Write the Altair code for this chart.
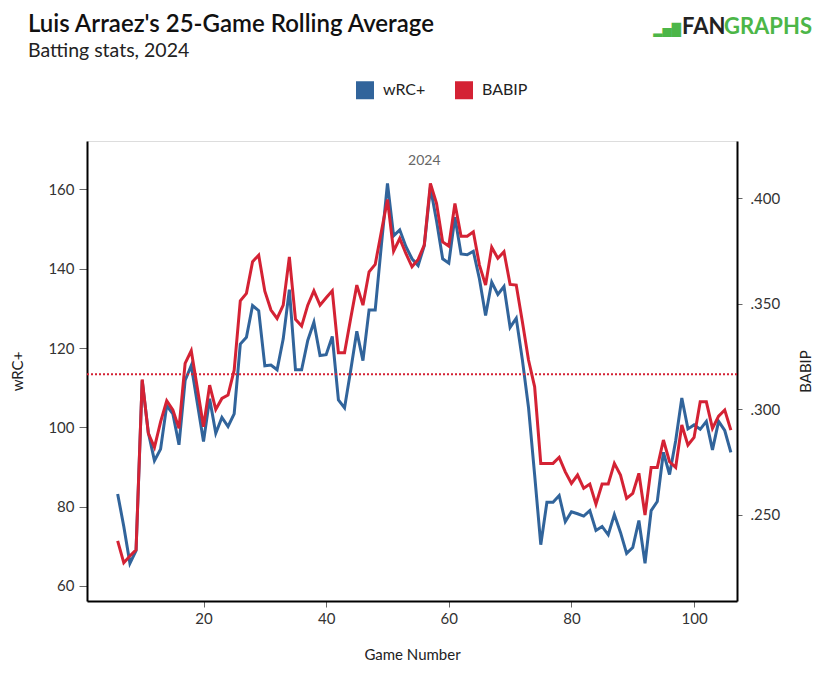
import altair as alt
import pandas as pd

# ---------------- data ----------------
games = list(range(6, 107))

wrc_plus = [
    83.2, 75.0, 65.7, 68.9, 111.8, 98.7, 91.6, 94.5, 105.5, 103.4,      # 6-15
    95.6, 111.8, 115.6, 106.0, 96.4, 107.2, 98.5, 102.5, 100.2, 103.4,  # 16-25
    121.0, 122.7, 130.7, 129.4, 115.5, 115.7, 114.5, 122.3, 134.7, 114.5,  # 26-35
    114.5, 121.9, 126.5, 118.1, 118.3, 122.9, 106.9, 104.9, 114.3, 124.2,  # 36-45
    116.8, 129.6, 129.6, 145.8, 161.5, 148.3, 149.8, 145.6, 142.5, 140.8,  # 46-55
    145.8, 160.5, 152.1, 142.5, 141.4, 153.0, 143.7, 143.5, 144.4, 137.4,  # 56-65
    128.2, 136.6, 133.5, 135.5, 125.2, 127.5, 117.0, 105.0, 88.0, 70.4,    # 66-75
    81.1, 81.1, 82.8, 76.2, 78.7, 78.2, 77.6, 79.0, 74.0, 75.0,            # 76-85
    72.9, 78.0, 73.5, 68.2, 69.7, 76.5, 65.7, 79.0, 81.3, 93.7,            # 86-95
    88.1, 96.6, 107.4, 99.6, 100.6, 99.5, 101.5, 94.3, 101.5, 99.2,        # 96-105
    93.7,                                                                  # 106
]

babip = [
    .2377, .2273, .2305, .2334, .3142, .2886, .2820, .2941, .3041, .2997,  # 6-15
    .2910, .3218, .3278, .3100, .2918, .3115, .3000, .3052, .3068, .3186,  # 16-25
    .3515, .3550, .3700, .3731, .3560, .3471, .3431, .3494, .3723, .3427,  # 26-35
    .3395, .3494, .3562, .3494, .3529, .3562, .3268, .3268, .3431, .3589,  # 36-45
    .3494, .3652, .3687, .3842, .3995, .3750, .3810, .3739, .3676, .3711,  # 46-55
    .3779, .4071, .3976, .3794, .3774, .3976, .3821, .3821, .3842, .3684,  # 56-65
    .3589, .3768, .3716, .3747, .3592, .3589, .3415, .3234, .3107, .2744,  # 66-75
    .2744, .2744, .2773, .2704, .2649, .2689, .2626, .2646, .2551, .2646,  # 76-85
    .2646, .2744, .2689, .2578, .2602, .2697, .2499, .2725, .2725, .2855,  # 86-95
    .2752, .2725, .2926, .2831, .2867, .3036, .3036, .2910, .2968, .2997,  # 96-105
    .2902,                                                                 # 106
]

babip_reference = [0.3167]
season_label = ["2024"]
season_mid_game = [56]

x_ticks = [20, 40, 60, 80, 100]
wrc_ticks = [60, 80, 100, 120, 140, 160]
babip_ticks = [0.25, 0.30, 0.35, 0.40]
series_names = ["wRC+", "BABIP"]

# ---------------- styling ----------------
BLUE = "#31649b"
RED = "#d42234"
GREEN = "#4cb648"
FONT = "Lato"

df = pd.DataFrame({"Game": games, "wRC+": wrc_plus, "BABIP": babip})
ref_df = pd.DataFrame({"ref": babip_reference})
label_df = pd.DataFrame({"Game": season_mid_game, "label": season_label})

color_scale = alt.Scale(domain=series_names, range=[BLUE, RED])
x_scale = alt.Scale(domain=[1, 107], nice=False, zero=False)
wrc_scale = alt.Scale(domain=[56.2, 172.2], nice=False, zero=False)
babip_scale = alt.Scale(domain=[0.2092, 0.4272], nice=False, zero=False)

x_axis = alt.Axis(
    values=x_ticks, title="Game Number", grid=False,
    domainColor="#000", domainWidth=2, tickColor="#666", tickSize=6,
    labelFont=FONT, labelFontSize=15, labelColor="#333", labelPadding=4,
    titleFont=FONT, titleFontSize=15, titleFontWeight="normal",
    titleColor="#222", titlePadding=21,
)

legend = alt.Legend(
    title=None, orient="none", legendX=269, legendY=-60, direction="horizontal",
    symbolType="square", symbolSize=81, symbolStrokeWidth=9,
    labelFont=FONT, labelFontSize=16, labelColor="#222", labelFontWeight="normal",
    labelOffset=9, columnPadding=15, padding=0,
)

blue = alt.Chart(df).transform_calculate(series="'wRC+'").mark_line(strokeWidth=3).encode(
    x=alt.X("Game:Q", scale=x_scale, axis=x_axis),
    y=alt.Y(
        "wRC+:Q", scale=wrc_scale,
        axis=alt.Axis(
            orient="left", values=wrc_ticks, title="wRC+", grid=False,
            domainColor="#000", domainWidth=2, tickColor="#666", tickSize=8,
            labelFont=FONT, labelFontSize=15, labelColor="#333", labelPadding=5,
            titleFont=FONT, titleFontSize=15, titleFontWeight="normal",
            titleColor="#222", titlePadding=22,
        ),
    ),
    color=alt.Color("series:N", scale=color_scale, legend=legend),
)

red = alt.Chart(df).transform_calculate(series="'BABIP'").mark_line(strokeWidth=3).encode(
    x=alt.X("Game:Q", scale=x_scale),
    y=alt.Y(
        "BABIP:Q", scale=babip_scale,
        axis=alt.Axis(
            orient="right", values=babip_ticks, title="BABIP", grid=False,
            labelExpr="substring(format(datum.value, '.3f'), 1)",
            domainColor="#000", domainWidth=2, tickColor="#666", tickSize=5,
            labelFont=FONT, labelFontSize=15, labelColor="#333", labelPadding=8,
            titleFont=FONT, titleFontSize=15, titleFontWeight="normal",
            titleColor="#222", titlePadding=34, titleAngle=270,
        ),
    ),
    color=alt.Color("series:N", scale=color_scale, legend=legend),
)

rule = alt.Chart(ref_df).mark_rule(color=RED, strokeWidth=2, strokeDash=[2, 2]).encode(
    y=alt.Y("ref:Q", scale=babip_scale, title="BABIP"),
)

season_text = alt.Chart(label_df).mark_text(
    font=FONT, fontSize=14, color="#666", baseline="middle"
).encode(
    x=alt.X("Game:Q", scale=x_scale),
    y=alt.value(20),
    text="label:N",
)

logo_icon = alt.Chart(label_df).mark_text(
    text="▂▅█", font="DejaVu Sans", fontSize=12, color=GREEN,
    align="right", baseline="alphabetic",
).encode(x=alt.value(594), y=alt.value(-107))

logo_fan = alt.Chart(label_df).mark_text(
    text="FAN", font=FONT, fontSize=22, fontWeight="bold", color="#222",
    align="left", baseline="alphabetic",
).encode(x=alt.value(595), y=alt.value(-107))

logo_graphs = alt.Chart(label_df).mark_text(
    text="GRAPHS", font=FONT, fontSize=22, fontWeight="bold", color=GREEN,
    align="right", baseline="alphabetic",
).encode(x=alt.value(725), y=alt.value(-107))

chart = alt.layer(
    blue + season_text + logo_icon + logo_fan + logo_graphs,
    alt.layer(red, rule),
).resolve_scale(y="independent").properties(
    width=650, height=460,
    autosize=alt.AutoSizeParams(type="none"),
    padding={"left": 79, "top": 133, "right": 77, "bottom": 64},
    title=alt.TitleParams(
        text="Luis Arraez's 25-Game Rolling Average",
        subtitle="Batting stats, 2024",
        anchor="start", frame="group", dx=-59, dy=48,
        font=FONT, fontSize=24, fontWeight=600, color="#111",
        subtitleFont=FONT, subtitleFontSize=19.5, subtitleColor="#222",
        subtitlePadding=5,
    ),
).configure_view(strokeWidth=0).configure(background="white")

chart.save("out.html", embed_options={"renderer": "svg", "actions": False})
